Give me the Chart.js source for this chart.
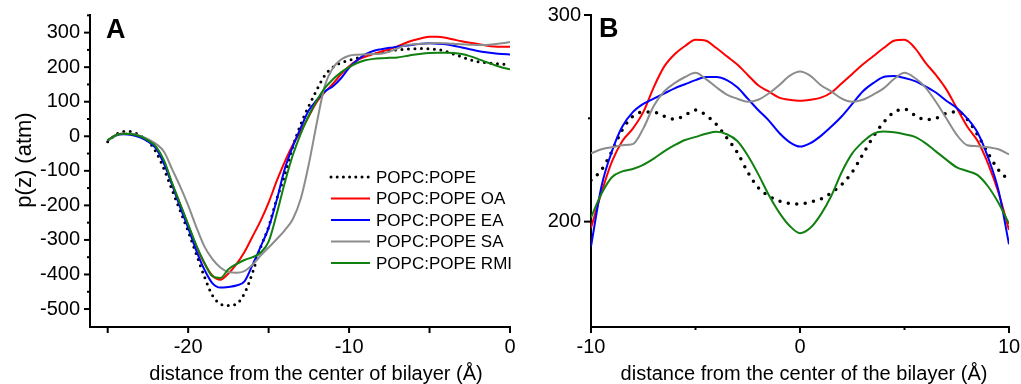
<!DOCTYPE html>
<html>
<head>
<meta charset="utf-8">
<script src="https://cdn.jsdelivr.net/npm/chart.js@4.4.0/dist/chart.umd.min.js"></script>
<style>
  body { margin: 0; background: #fff; width: 1021px; height: 384px; overflow: hidden; position: relative; }
  .pane { position: absolute; top: 0; height: 384px; }
</style>
</head>
<body>
<div class="pane" style="left:0;width:520px"><canvas id="chartA"></canvas></div>
<div class="pane" style="left:520px;width:501px"><canvas id="chartB"></canvas></div>
<script>
// panel A: distance from the centre of the bilayer (Å), one leaflet
const distA = [-25, -24.5, -24, -23.5, -23, -22.5, -22, -21.5, -21, -20.5, -20, -19.5, -19, -18.5, -18, -17.5,
    -17, -16.5, -16, -15.5, -15, -14.5, -14, -13.5, -13, -12.5, -12, -11.5, -11, -10.5, -10, -9.5, -9, -8.5,
    -8, -7.5, -7, -6.5, -6, -5.5, -5, -4.5, -4, -3.5, -3, -2.5, -2, -1.5, -1, -0.5, 0];
const popeA = [-16, 5, 14, 13, 2, -14, -45, -95, -155, -215, -275, -340, -405, -460, -485, -490, -485, -455,
    -395, -322, -262, -182, -112, -30, 35, 88, 135, 177, 200, 213, 220, 226, 233, 238, 242, 247, 250, 252, 253,
    254, 253, 251, 246, 238, 230, 222, 216, 213, 211, 209, 208];
const oaA = [-12, 3, 7, 6, 0, -12, -32, -75, -138, -197, -257, -317, -367, -403, -415, -397, -370, -335, -290,
    -245, -192, -130, -74, -25, 15, 58, 100, 128, 152, 180, 203, 220, 230, 238, 245, 252, 260, 270, 278, 284,
    288, 288, 285, 280, 275, 271, 267, 263, 260, 259, 259];
const eaA = [-12, 2, 6, 4, -3, -15, -35, -80, -140, -205, -265, -330, -385, -425, -438, -436, -432, -420, -372,
    -320, -265, -185, -95, -30, 25, 75, 105, 130, 145, 168, 198, 220, 237, 247, 252, 256, 259, 262, 265, 268,
    269, 268, 266, 262, 257, 252, 247, 243, 240, 238, 237];
const saA = [-12, 3, 8, 7, 2, -8, -22, -45, -95, -145, -200, -262, -318, -355, -380, -393, -395, -390, -372,
    -345, -322, -298, -272, -240, -180, -80, 40, 148, 198, 222, 233, 236, 237, 238, 239, 245, 254, 263, 266,
    268, 269, 270, 269, 268, 266, 265, 264, 264, 266, 269, 273];
const rmiA = [-12, 3, 7, 6, 0, -12, -30, -70, -135, -195, -255, -315, -365, -405, -410, -385, -370, -358, -350,
    -337, -305, -225, -135, -55, 8, 60, 104, 140, 165, 185, 200, 212, 220, 224, 226, 227, 228, 232, 236, 239,
    241, 242, 242, 241, 238, 232, 224, 215, 207, 199, 194];
const xTicksA = [-25, -20, -15, -10, -5, 0];
const yTicksA = [-500, -450, -400, -350, -300, -250, -200, -150, -100, -50, 0, 50, 100, 150, 200, 250, 300, 350];

// panel B: the hydrocarbon core, both leaflets
const distB = [-10, -9.5, -9, -8.5, -8, -7.5, -7, -6.5, -6, -5.5, -5, -4.5, -4, -3.5, -3, -2.5, -2, -1.5, -1,
    -0.5, 0, 0.5, 1, 1.5, 2, 2.5, 3, 3.5, 4, 4.5, 5, 5.5, 6, 6.5, 7, 7.5, 8, 8.5, 9, 9.5, 10];
const popeB = [220, 225, 234, 244.5, 251, 253, 253, 251, 249.5, 251.5, 254, 251.5, 247, 240.5, 233.5, 224,
    216.5, 212.5, 210, 208.8, 208.5, 209.5, 211, 214, 218, 224, 232.5, 241, 248, 253, 254.4, 251.5, 249.3, 250,
    252.4, 253.2, 249.5, 242, 233, 225, 220];
const oaB = [197, 214, 229, 239, 245, 253, 265, 275, 281, 285, 288, 287.5, 284, 280, 276, 271, 266, 263, 260,
    259, 258.5, 259, 260, 262.5, 267, 271.5, 276, 280, 284, 287.5, 288, 284, 277, 271, 264, 255, 246, 239, 228,
    214, 196];
const eaB = [188, 217, 234, 246, 253, 257, 259.5, 262, 264.5, 266.5, 268.5, 270, 270, 268.5, 265, 259.5, 254,
    249, 243, 238.5, 236.3, 238, 241.5, 246, 251, 257, 263, 267, 270, 270.5, 269.5, 268, 265.5, 262.5, 258.5,
    255, 250, 243, 231, 215, 189];
const saB = [233, 235, 236, 237, 237.5, 245, 256, 263, 267, 270, 272, 269, 265, 261.5, 259.5, 258, 259, 262,
    266, 270.5, 272.6, 270.5, 266, 263, 259.5, 258, 259, 261.5, 264.5, 269, 272, 269.5, 265, 258, 250, 242, 237,
    236.5, 236, 235, 232.5];
const rmiB = [202, 213.5, 221.5, 224.3, 225.5, 227.5, 230.5, 234, 237, 239.5, 241, 242.5, 243.5, 242.3, 239,
    232, 223, 213, 204.5, 198, 194.4, 197, 203.5, 212.5, 224, 233, 238.5, 242.5, 243.6, 243.2, 242.3, 241, 238,
    234, 230, 226.3, 224.5, 222.5, 217, 209, 199];
const xTicksB = [-10, -5, 0, 5, 10];
const yTicksB = [200, 250, 300];

const seriesNames = ["POPC:POPE", "POPC:POPE OA", "POPC:POPE EA", "POPC:POPE SA", "POPC:POPE RMI"];
const seriesColors = ["#000000", "#ff0000", "#0000ff", "#8c8c8c", "#118011"];

const FONT = "'Liberation Sans', Arial, sans-serif";

function points(xs, ys) {
    return xs.map((x, i) => ({ x: x, y: ys[i] }));
}

function datasets(xs, list, dotGap, dotSize) {
    return list.map((ys, i) => ({
        label: seriesNames[i],
        data: points(xs, ys),
        borderColor: seriesColors[i],
        borderWidth: i === 0 ? dotSize : 2,
        borderDash: i === 0 ? [0, dotGap] : [],
        borderCapStyle: i === 0 ? "round" : "butt",
        pointRadius: 0,
        cubicInterpolationMode: "monotone",
        order: 4 - i
    }));
}

// tick marks, panel letter, axis titles and (for A) the legend
const decor = {
    id: "decor",
    afterDraw(chart, args, o) {
        const ctx = chart.ctx;
        const xs = chart.scales.x, ys = chart.scales.y;
        ctx.save();
        ctx.strokeStyle = "#000";
        ctx.lineWidth = 2;
        xs.ticks.forEach(t => {
            const px = xs.getPixelForValue(t.value);
            const len = t.value % o.xMajor === 0 ? o.xLong : o.xShort;
            ctx.beginPath();
            ctx.moveTo(px, xs.top);
            ctx.lineTo(px, xs.top + len);
            ctx.stroke();
        });
        ys.ticks.forEach(t => {
            const py = ys.getPixelForValue(t.value);
            const len = t.value % o.yMajor === 0 ? o.yLong : o.yShort;
            ctx.beginPath();
            ctx.moveTo(ys.right, py);
            ctx.lineTo(ys.right - len, py);
            ctx.stroke();
        });

        ctx.fillStyle = "#000";
        ctx.font = "bold 27px " + FONT;
        ctx.textAlign = "left";
        ctx.textBaseline = "alphabetic";
        ctx.fillText(o.letter, o.letterX, o.letterY);

        ctx.font = "20px " + FONT;
        ctx.textAlign = "center";
        ctx.textBaseline = "middle";
        ctx.fillText(o.xTitle, o.xTitleX, o.xTitleY);
        if (o.yTitle) {
            ctx.save();
            ctx.translate(o.yTitleX, o.yTitleY);
            ctx.rotate(-Math.PI / 2);
            ctx.font = "22px " + FONT;
            ctx.fillText(o.yTitle, 0, 0);
            ctx.restore();
        }

        if (o.legend) {
            ctx.font = "17px " + FONT;
            ctx.textAlign = "left";
            chart.data.datasets.forEach((ds, i) => {
                const y = o.legendY + i * o.legendRow;
                ctx.save();
                ctx.strokeStyle = ds.borderColor;
                ctx.lineWidth = i === 0 ? 3 : 2;
                ctx.lineCap = ds.borderCapStyle;
                ctx.setLineDash(i === 0 ? [0, 6.2] : []);
                ctx.beginPath();
                ctx.moveTo(o.legendX, y);
                ctx.lineTo(o.legendX + 39, y);
                ctx.stroke();
                ctx.restore();
                ctx.fillText(ds.label, o.legendX + 45, y + 1);
            });
        }
        ctx.restore();
    }
};

function axis(min, max, tickVals, labelEvery, size, pad) {
    return {
        type: "linear",
        min: min,
        max: max,
        bounds: "data",
        afterBuildTicks: s => { s.ticks = tickVals.map(v => ({ value: v })); },
        afterFit: s => {
            if (s.isHorizontal()) s.height = size; else s.width = size;
            // keep label overhang from pushing the plot area around
            s.paddingTop = 0; s.paddingBottom = 0; s.paddingLeft = 0; s.paddingRight = 0;
        },
        ticks: {
            autoSkip: false,
            maxRotation: 0,
            padding: pad,
            color: "#000",
            font: { family: FONT, size: 20, lineHeight: 1 },
            callback: v => (v % labelEvery === 0 ? String(v) : "")
        },
        grid: { drawOnChartArea: false, drawTicks: false, color: "#000" },
        border: { display: true, color: "#000", width: 2 }
    };
}

function makeChart(id, xs, list, scales, padding, decorOpts, dotGap, dotSize) {
    return new Chart(document.getElementById(id), {
        type: "line",
        data: { datasets: datasets(xs, list, dotGap, dotSize) },
        options: {
            responsive: true,
            maintainAspectRatio: false,
            animation: false,
            layout: { padding: padding },
            scales: scales,
            plugins: { legend: { display: false }, tooltip: { enabled: false }, decor: decorOpts }
        },
        plugins: [decor]
    });
}

makeChart("chartA", distA, [popeA, oaA, eaA, saA, rmiA],
    { x: axis(-26.1, 0, xTicksA, 10, 57, 10), y: axis(-552, 351, yTicksA, 100, 90, 10) },
    { left: 0, right: 10, top: 15, bottom: 0 },
    {
        xMajor: 5, xLong: 6, xShort: 6, yMajor: 100, yLong: 6, yShort: 3,
        letter: "A", letterX: 106, letterY: 38,
        xTitle: "distance from the center of bilayer (Å)", xTitleX: 316, xTitleY: 374,
        yTitle: "p(z) (atm)", yTitleX: 25, yTitleY: 160,
        legend: true, legendX: 331, legendY: 177, legendRow: 21.5
    }, 6.5, 3);

makeChart("chartB", distB, [popeB, oaB, eaB, saB, rmiB],
    { x: axis(-10, 10, xTicksB, 10, 57, 10), y: axis(149, 300, yTicksB, 100, 71, 10) },
    { left: 0, right: 12, top: 15, bottom: 0 },
    {
        xMajor: 10, xLong: 6, xShort: 3, yMajor: 100, yLong: 7, yShort: 3,
        letter: "B", letterX: 79, letterY: 37,
        xTitle: "distance from the center of the bilayer (Å)", xTitleX: 284, xTitleY: 374,
        legend: false
    }, 8.5, 3.5);
</script>
</body>
</html>
